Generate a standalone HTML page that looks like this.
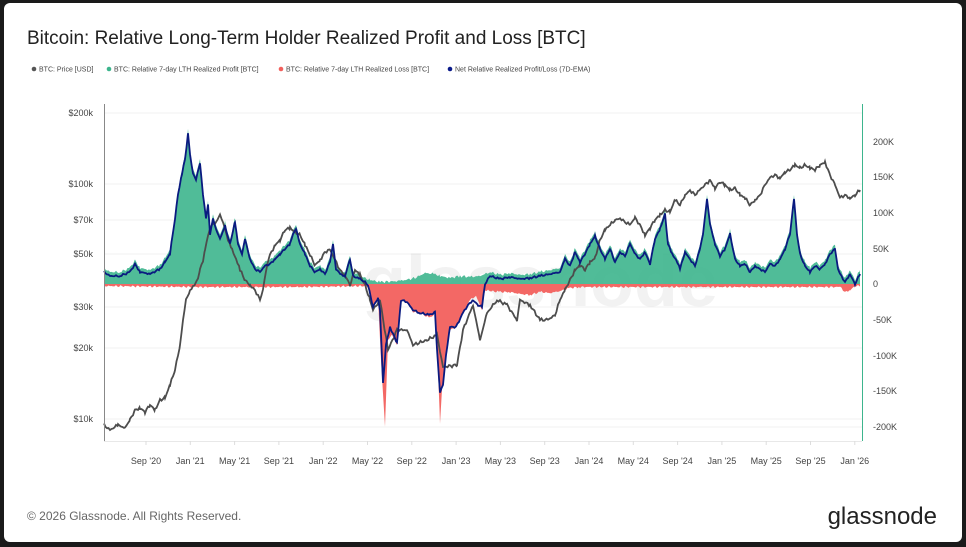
<!DOCTYPE html>
<html><head><meta charset="utf-8"><style>
html,body{margin:0;padding:0;background:#1a1a1a;}
#card{position:absolute;left:4px;top:3px;width:958px;height:539px;background:#fff;border-radius:6px;overflow:hidden;font-family:"Liberation Sans",sans-serif;}
</style></head><body>
<div id="card"></div>
<svg id="s" width="966" height="547" style="position:absolute;left:0;top:0" font-family="Liberation Sans, sans-serif">
<text x="27" y="44" font-size="19" fill="#222">Bitcoin: Relative Long-Term Holder Realized Profit and Loss [BTC]</text>
<g font-size="7" fill="#444">
<circle cx="34" cy="69" r="2.3" fill="#555"/><text x="39" y="71.5">BTC: Price [USD]</text>
<circle cx="109" cy="69" r="2.3" fill="#3db58d"/><text x="114" y="71.5">BTC: Relative 7-day LTH Realized Profit [BTC]</text>
<circle cx="281" cy="69" r="2.3" fill="#f2605d"/><text x="286" y="71.5">BTC: Relative 7-day LTH Realized Loss [BTC]</text>
<circle cx="450" cy="69" r="2.3" fill="#0a1a8a"/><text x="455" y="71.5">Net Relative Realized Profit/Loss (7D-EMA)</text>
</g>
<g stroke="#f0f0f0" stroke-width="1">
<line x1="104" x2="862" y1="113" y2="113"/><line x1="104" x2="862" y1="184" y2="184"/><line x1="104" x2="862" y1="220" y2="220"/><line x1="104" x2="862" y1="254" y2="254"/><line x1="104" x2="862" y1="307" y2="307"/><line x1="104" x2="862" y1="348" y2="348"/><line x1="104" x2="862" y1="419" y2="419"/><line x1="104" x2="862" y1="427" y2="427"/>
</g>
<text x="540" y="306" font-size="72" fill="#000" fill-opacity="0.05" text-anchor="middle" font-weight="bold">glassnode</text>
<g id="data"></g>
<line x1="104.5" y1="104" x2="104.5" y2="441" stroke="#888"/>
<line x1="862.5" y1="104" x2="862.5" y2="441" stroke="#3db58d"/>
<line x1="104" y1="441.5" x2="862" y2="441.5" stroke="#e8e8e8"/>
<g font-size="9" fill="#444" text-anchor="end">
<text x="93" y="116">$200k</text><text x="93" y="187">$100k</text><text x="93" y="223">$70k</text><text x="93" y="257">$50k</text><text x="93" y="310">$30k</text><text x="93" y="351">$20k</text><text x="93" y="422">$10k</text>
</g>
<g font-size="9" fill="#444">
<text x="873" y="145">200K</text><text x="873" y="180">150K</text><text x="873" y="216">100K</text><text x="873" y="252">50K</text><text x="873" y="287">0</text><text x="873" y="323">-50K</text><text x="873" y="359">-100K</text><text x="873" y="394">-150K</text><text x="873" y="430">-200K</text>
</g>
<g id="xt" font-size="9" fill="#444" text-anchor="middle"></g>
<text x="27" y="520" font-size="12" fill="#666">© 2026 Glassnode. All Rights Reserved.</text>
<text x="937" y="524" font-size="24" fill="#222" text-anchor="end">glassnode</text>
</svg>
<script>
var NS="http://www.w3.org/2000/svg";
function el(t,a,p){var e=document.createElementNS(NS,t);for(var k in a)e.setAttribute(k,a[k]);(p||document.getElementById('data')).appendChild(e);return e;}
var labs=["Sep '20","Jan '21","May '21","Sep '21","Jan '22","May '22","Sep '22","Jan '23","May '23","Sep '23","Jan '24","May '24","Sep '24","Jan '25","May '25","Sep '25","Jan '26"];
var xt=document.getElementById('xt');
labs.forEach(function(l,i){var x=146+i*44.3;el('text',{x:x,y:464},xt).textContent=l;el('line',{x1:x,x2:x,y1:441,y2:445,stroke:'#ddd'},xt);});
function P(a){var s="";for(var i=0;i<a.length;i+=2)s+=(i?"L":"M")+a[i]+","+a[i+1];return s;}
function J(a,amp){var o=[];for(var i=0;i<a.length-2;i+=2){var x0=a[i],y0=a[i+1],x1=a[i+2],y1=a[i+3];for(var x=x0;x<x1;x+=1.5){var t=(x-x0)/(x1-x0);o.push(x,y0+(y1-y0)*t+(Math.sin(x*2.7)+Math.sin(x*5.3))*amp*0.5);}}o.push(a[a.length-2],a[a.length-1]);return o;}
var B=284;
var green=[104,268,110,272,120,272,130,268,135,260,140,268,150,270,160,265,165,258,170,250,172,235,175,215,178,190,182,170,185,155,188,130,190,150,193,170,196,175,200,160,203,190,206,215,208,200,210,230,213,215,216,225,220,235,225,222,230,240,235,218,238,240,242,250,245,235,250,255,255,265,260,268,265,262,270,260,275,255,280,250,285,245,290,240,293,230,296,225,300,240,305,250,310,262,315,268,320,265,325,270,330,258,333,240,336,265,340,270,345,272,350,255,353,272,360,275,365,278,370,280,380,282,400,281,415,278,425,273,435,274,440,276,450,278,460,276,470,277,480,276,490,272,500,275,510,273,520,275,530,274,540,272,550,270,560,268,565,255,570,262,575,248,580,258,585,250,590,240,595,232,600,245,605,255,610,245,615,258,620,248,625,252,630,240,635,250,640,255,645,248,650,260,655,235,660,225,665,210,668,240,672,250,676,255,680,265,685,248,690,255,695,262,700,245,703,230,707,195,710,220,715,240,720,252,725,245,730,230,735,255,740,262,745,260,750,268,755,262,760,265,765,268,770,260,775,262,780,255,785,245,790,230,794,195,797,230,800,250,805,262,810,268,815,262,820,265,825,260,830,250,835,245,838,265,840,270,845,278,850,270,855,280,860,270];
var red=[104,286,200,287,300,287,366,286,370,290,373,307,378,297,381,360,385,427,388,340,392,335,397,345,401,300,407,302,413,312,420,313,430,318,435,313,438,370,440,423,442,390,446,360,450,330,456,327,463,313,470,300,476,296,482,310,485,290,490,291,500,292,510,292,520,294,530,295,540,292,550,293,560,291,570,288,580,287,600,287,700,287,840,287,845,292,850,290,855,286,860,286];
var net=[];
for(var i=0;i<green.length;i+=2){var x=green[i],y=green[i+1];if(x>=368&&x<=485)continue;net.push(x,Math.min(B,y+4));if(x==365){net.push(368,285,373,307,378,298,380,310,383,383,386,345,390,327,397,343,401,300,407,302,413,310,420,313,430,315,435,312,437,350,440,392,443,385,446,355,450,327,456,327,463,313,468,305,473,300,478,305,482,307,485,284);}}
var gj=J(green,1.5),rj=J(red,1.2);
el('path',{d:P(gj)+"L860,"+B+"L104,"+B+"Z",fill:'#3db58d','fill-opacity':0.9});
el('path',{d:P(rj)+"L860,"+B+"L104,"+B+"Z",fill:'#f2605d','fill-opacity':0.95});
var price=[104,425,110,430,118,425,125,428,130,420,135,410,140,408,145,412,150,405,155,410,160,400,165,398,170,385,175,370,180,345,183,320,186,300,190,290,195,285,198,278,200,270,203,260,205,250,208,235,212,225,216,222,220,215,224,225,228,240,232,250,236,258,240,270,245,280,250,285,255,290,260,300,263,290,266,270,270,255,275,245,280,240,285,230,290,228,295,232,300,235,305,245,310,255,315,265,320,260,325,252,330,250,335,260,340,270,345,275,350,285,355,270,360,275,365,285,370,300,373,310,380,300,388,350,397,330,407,330,413,345,427,340,437,335,443,367,457,365,463,330,473,305,480,340,487,313,497,300,507,305,517,320,520,300,530,305,540,320,545,320,550,318,555,315,560,300,565,290,570,280,575,270,580,265,585,270,590,262,595,258,600,240,605,230,610,225,615,220,620,218,625,222,630,225,635,218,640,225,645,235,650,228,655,220,660,215,665,210,670,212,675,200,680,205,685,195,690,190,695,195,700,190,705,185,710,180,715,188,720,182,725,185,730,190,735,188,740,195,745,198,750,205,755,200,760,195,765,185,770,178,775,175,780,178,785,172,790,170,795,165,800,168,805,165,810,168,815,170,820,165,825,162,830,175,835,185,840,198,845,195,850,198,855,195,860,190];
el('path',{d:P(J(price,1.6)),fill:'none',stroke:'#4d4d4d','stroke-width':1.8});
el('path',{d:P(J(net,1)),fill:'none',stroke:'#0a1a80','stroke-width':1.8});
</script>
</body></html>
